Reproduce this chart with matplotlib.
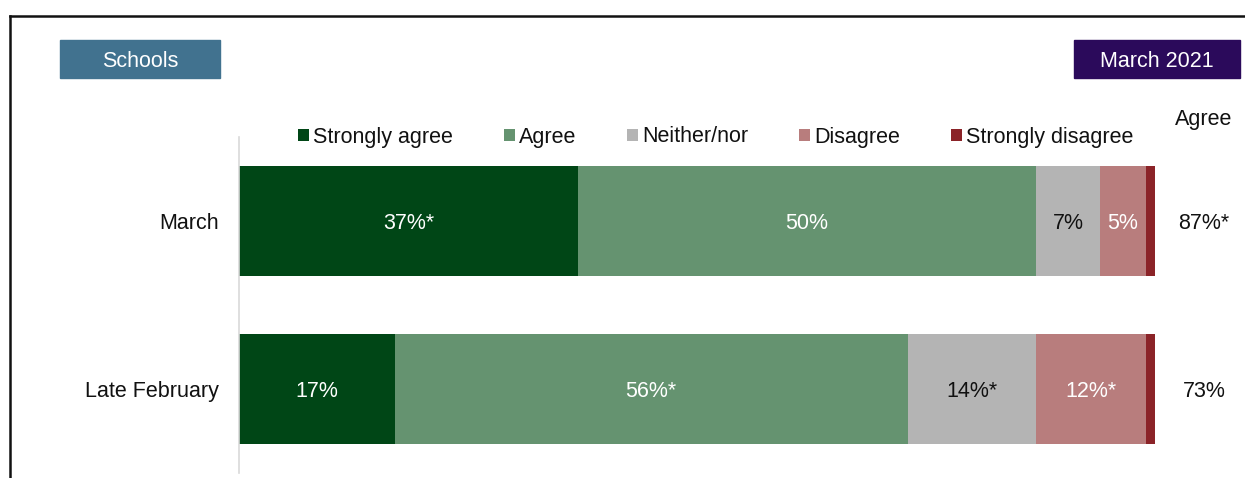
import matplotlib.pyplot as plt
from matplotlib.patches import Patch, Rectangle
from matplotlib.lines import Line2D

plt.rcParams['font.family'] = ['Liberation Sans', 'DejaVu Sans']

periods = ["March", "Late February"]
responses = ["Strongly agree", "Agree", "Neither/nor", "Disagree", "Strongly disagree"]
strongly_agree = [37, 17]
agree = [50, 56]
neither = [7, 14]
disagree = [5, 12]
strongly_disagree = [1, 1]
segment_labels = [
    ["37%*", "50%", "7%", "5%", ""],
    ["17%", "56%*", "14%*", "12%*", ""],
]
agree_totals = ["87%*", "73%"]

colors = ["#004616", "#659370", "#b4b4b4", "#b87d7d", "#8b2328"]
text_colors = ["white", "white", "#111111", "white", "white"]
FS = 15.5
VA = "center_baseline"

fig = plt.figure(figsize=(12.45, 4.78), dpi=100)
W, H = 1245, 478

ax = fig.add_axes([239 / W, 1 - 473 / H, 916 / W, 336 / H])
series = [strongly_agree, agree, neither, disagree, strongly_disagree]
left = [0, 0]
ypos = list(range(len(periods)))
for i, vals in enumerate(series):
    bars = ax.barh(ypos, vals, left=left, height=0.652, color=colors[i],
                   label=responses[i])
    for j, bar in enumerate(bars):
        txt = segment_labels[j][i]
        if txt:
            ax.text(bar.get_x() + bar.get_width() / 2, ypos[j], txt,
                    ha="center", va=VA, color=text_colors[i], fontsize=FS)
    left = [a + b for a, b in zip(left, vals)]

ax.set_xlim(0, 100)
ax.set_ylim(1.5, -0.5)
ax.set_yticks(ypos)
ax.set_yticklabels(periods, fontsize=FS, color="#111111")
ax.tick_params(axis="y", length=0, pad=14.4)
ax.set_xticks([])
for side in ["top", "right", "bottom"]:
    ax.spines[side].set_visible(False)
ax.spines["left"].set_color("#d9d9d9")
ax.spines["left"].set_linewidth(1.2)

# Agree totals column to the right of the bars
for j, t in enumerate(agree_totals):
    ax.annotate(t, xy=(1, ypos[j]), xycoords=("axes fraction", "data"),
                xytext=(1204 - 1155, 0), textcoords="offset pixels",
                ha="center", va=VA, fontsize=FS, color="#111111")
fig.text(1204 / W, 1 - 117 / H, "Agree", ha="center", va=VA,
         fontsize=FS, color="#111111")

handles = [Patch(facecolor=c, label=r) for c, r in zip(colors, responses)]
fig.legend(handles=handles, loc="center", bbox_to_anchor=(716 / W, 1 - 137 / H),
           ncol=5, frameon=False, fontsize=FS, handlelength=0.5, handleheight=0.5,
           handletextpad=0.2, columnspacing=2.36, labelcolor="#111111")

# header boxes
fig.patches.append(Rectangle((60 / W, 1 - 78 / H), 160 / W, 38 / H,
                             transform=fig.transFigure, color="#41728f"))
fig.text(140 / W, 1 - 59 / H, "Schools", ha="center", va=VA,
         fontsize=FS, color="white")
fig.patches.append(Rectangle((1074 / W, 1 - 78 / H), 166 / W, 38 / H,
                             transform=fig.transFigure, color="#2b0a5b"))
fig.text(1157 / W, 1 - 59 / H, "March 2021", ha="center", va=VA,
         fontsize=FS, color="white")

# frame lines along top and left
fig.lines.append(Line2D([9.5 / W, 1], [1 - 15.5 / H, 1 - 15.5 / H],
                        transform=fig.transFigure, color="#111111", lw=1.8))
fig.lines.append(Line2D([9.5 / W, 9.5 / W], [0, 1 - 15.5 / H],
                        transform=fig.transFigure, color="#111111", lw=1.8))

fig.savefig("out.png", dpi=100, facecolor="white")
